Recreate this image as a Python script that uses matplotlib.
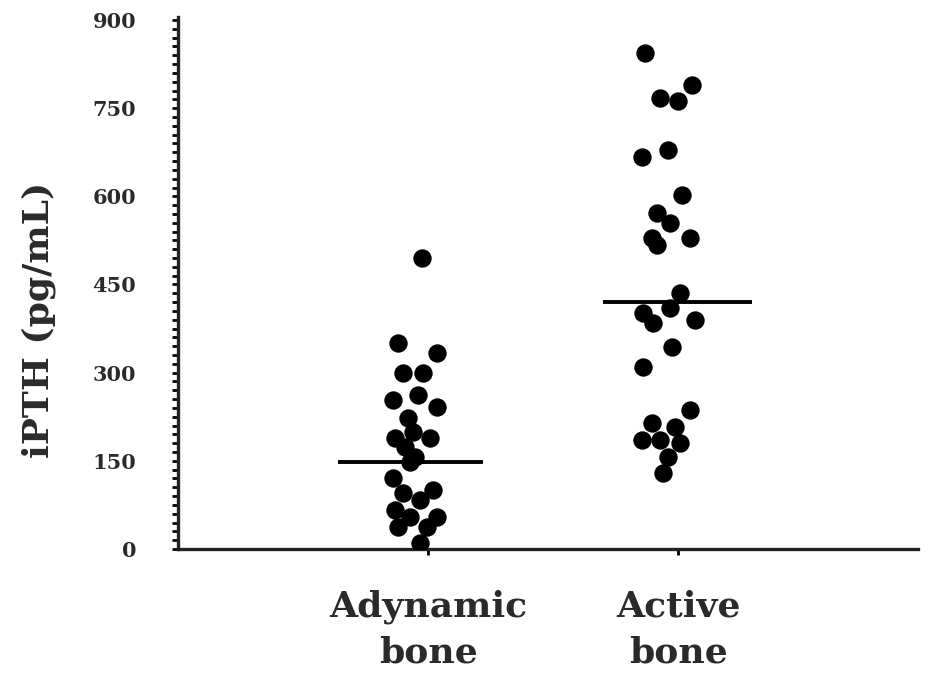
import numpy as np
import matplotlib
matplotlib.use("Agg")
import matplotlib.pyplot as plt
from matplotlib.ticker import MultipleLocator

# groups and tick labels
groups = ["Adynamic\nbone", "Active\nbone"]
yticks = [0, 150, 300, 450, 600, 750, 900]

# iPTH values (pg/mL), with horizontal jitter (category units)
adyn_vals = [495, 350, 333, 299, 299, 262, 253, 242, 223, 199, 189, 189, 174, 157,
             148, 121, 100, 95, 83, 66, 54, 54, 37, 37, 10]
adyn_jit = [-0.024, -0.12, 0.036, -0.10, -0.02, -0.04, -0.14, 0.036, -0.08, -0.06, -0.132, 0.008,
            -0.092, -0.052, -0.072, -0.14, 0.02, -0.10, -0.032, -0.132, 0.036, -0.072, -0.12, -0.004, -0.032]

act_vals = [843, 789, 767, 763, 678, 667, 602, 572, 555, 529, 529, 517, 435, 410, 401,
            390, 384, 344, 310, 236, 214, 208, 185, 185, 180, 157, 129]
act_jit = [-0.132, 0.056, -0.072, 0.0, -0.04, -0.144, 0.016, -0.084, -0.032, -0.104, 0.048, -0.084,
           0.008, -0.032, -0.14, 0.068, -0.10, -0.024, -0.14, 0.048, -0.104, -0.012, -0.144, -0.072,
           0.008, -0.04, -0.06]

# group medians and the extent of the median bars
medians = [148, 420]
bar_left = [-0.36, -0.30]
bar_right = [0.22, 0.296]

plt.rcParams['font.family'] = ['DejaVu Serif']
plt.rcParams['font.weight'] = 'bold'

fig = plt.figure(figsize=(9.32, 6.82), dpi=100)
ax = fig.add_axes([0.191, 0.195, 0.794, 0.780])

pos = [1, 2]
ax.scatter(pos[0] + np.array(adyn_jit), adyn_vals, s=175, color='black', zorder=3, linewidths=0)
ax.scatter(pos[1] + np.array(act_jit), act_vals, s=175, color='black', zorder=3, linewidths=0)

for p, m, l, r in zip(pos, medians, bar_left, bar_right):
    ax.plot([p + l, p + r], [m, m], color='black', lw=2.8, zorder=4, solid_capstyle='butt')

ax.set_xlim(0, 2.96)
ax.set_ylim(0, 905)
ax.set_xticks(pos)
ax.set_xticklabels(groups, fontsize=26, linespacing=1.45, color='#2a2a2a')
ax.set_yticks(yticks)
ax.set_yticklabels([str(t) for t in yticks], fontsize=15, color='#2a2a2a')
ax.yaxis.set_minor_locator(MultipleLocator(15))

ax.tick_params(axis='y', which='major', direction='out', length=4, width=2, pad=26)
ax.tick_params(axis='y', which='minor', direction='out', length=4, width=2)
ax.tick_params(axis='x', direction='out', length=4, width=2, pad=25)

for s in ['top', 'right']:
    ax.spines[s].set_visible(False)
for s in ['left', 'bottom']:
    ax.spines[s].set_linewidth(2.4)
    ax.spines[s].set_color('#222222')

ax.set_ylabel("iPTH (pg/mL)", fontsize=26, fontweight='bold', color='#2a2a2a')
ax.yaxis.set_label_coords(-0.165, 0.43)

fig.savefig("out.png", dpi=100)
